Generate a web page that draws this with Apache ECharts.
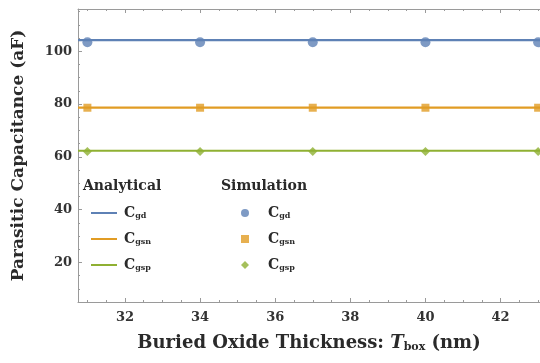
<!DOCTYPE html>
<html>
<head>
<meta charset="utf-8">
<script src="https://cdn.jsdelivr.net/npm/echarts@6/dist/echarts.min.js"></script>
<style>
  html, body { margin: 0; padding: 0; background: #fff; }
  #chart { width: 540px; height: 363px; }
</style>
</head>
<body>
<div id="chart"></div>
<script>
// Buried oxide thickness (nm) of the simulated devices
const tboxSim = [31, 34, 37, 40, 43];
// Span of the analytical model curves (nm)
const tboxModel = [30.75, 43.05];

// Analytical parasitic capacitances (aF)
const modelGd = [104.2, 104.2];
const modelGsn = [78.6, 78.6];
const modelGsp = [62.3, 62.3];

// Simulated parasitic capacitances (aF)
const simGd = [103.4, 103.4, 103.4, 103.4, 103.4];
const simGsn = [78.6, 78.6, 78.6, 78.6, 78.6];
const simGsp = [62.0, 62.0, 62.0, 62.0, 62.0];

// Legend subscripts for each component
const subscripts = { gd: 'gd', gsn: 'gsn', gsp: 'gsp' };

const xRange = [30.75, 43.05];
const yRange = [5, 116];

const colors = { gd: '#5E81B5', gsn: '#E19C24', gsp: '#8FB032' };
const serif = '"DejaVu Serif", "Liberation Serif", serif';
const frameColor = '#9a9a9a';
const ink = '#2a2a2a';

function pairs(xs, ys) { return xs.map((x, i) => [x, ys[i]]); }

function legendRich(leftPad) {
  return {
    c: { fontFamily: serif, fontWeight: 'bold', fontSize: 14, color: ink, padding: [0, 0, 0, leftPad] },
    s: { fontFamily: serif, fontWeight: 'bold', fontSize: 8, color: ink, verticalAlign: 'bottom', padding: [6, 0, 0, 0] }
  };
}
function legendLabel(name) {
  const key = name.split(' ')[0];
  return '{c|C}{s|' + subscripts[key] + '}';
}

const tickLabel = { fontFamily: serif, fontWeight: 'bold', fontSize: 13, color: '#333' };

const chart = echarts.init(document.getElementById('chart'));
chart.setOption({
  animation: false,
  backgroundColor: '#fff',
  grid: { left: 78, right: 0, top: 9, bottom: 61 },
  xAxis: [{
    type: 'value', min: xRange[0], max: xRange[1], splitNumber: 6,
    name: '{b|Buried Oxide Thickness: }{i|T}{sub|box}{b| (nm)}',
    nameLocation: 'middle', nameGap: 31,
    nameTextStyle: {
      rich: {
        b: { fontFamily: serif, fontWeight: 'bold', fontSize: 18, color: ink },
        i: { fontFamily: serif, fontWeight: 'bold', fontStyle: 'italic', fontSize: 18, color: ink },
        sub: { fontFamily: serif, fontWeight: 'bold', fontSize: 11, color: ink, verticalAlign: 'bottom', padding: [9, 0, 0, 0] }
      }
    },
    axisLine: { show: true, lineStyle: { color: frameColor, width: 1 } },
    axisTick: { inside: true, length: 4, lineStyle: { color: frameColor } },
    minorTick: { show: true, splitNumber: 4, length: 2, lineStyle: { color: frameColor } },
    axisLabel: Object.assign({ showMinLabel: false, showMaxLabel: false, margin: 9 }, tickLabel),
    splitLine: { show: false }
  }, {
    type: 'value', position: 'top', min: xRange[0], max: xRange[1], splitNumber: 6,
    axisLine: { show: true, lineStyle: { color: frameColor, width: 1 } },
    axisTick: { inside: true, length: 4, lineStyle: { color: frameColor } },
    minorTick: { show: true, splitNumber: 4, length: 2, lineStyle: { color: frameColor } },
    axisLabel: { show: false },
    splitLine: { show: false }
  }],
  yAxis: {
    type: 'value', min: yRange[0], max: yRange[1], splitNumber: 5,
    name: 'Parasitic Capacitance (aF)',
    nameLocation: 'middle', nameGap: 51, nameRotate: 90,
    nameTextStyle: { fontFamily: serif, fontWeight: 'bold', fontSize: 17, color: ink },
    axisLine: { show: true, lineStyle: { color: frameColor, width: 1 } },
    axisTick: { inside: true, length: 4, lineStyle: { color: frameColor } },
    minorTick: { show: true, splitNumber: 4, length: 2, lineStyle: { color: frameColor } },
    axisLabel: Object.assign({ showMinLabel: false, showMaxLabel: false, margin: 6 }, tickLabel),
    splitLine: { show: false }
  },
  legend: [{
    data: [
      { name: 'gd model', icon: 'rect' },
      { name: 'gsn model', icon: 'rect' },
      { name: 'gsp model', icon: 'rect' }
    ],
    orient: 'vertical', left: 86, top: 201, itemGap: 12,
    itemWidth: 26, itemHeight: 2,
    formatter: legendLabel,
    textStyle: { rich: legendRich(2) }
  }, {
    data: [
      { name: 'gd sim', icon: 'circle' },
      { name: 'gsn sim', icon: 'rect' },
      { name: 'gsp sim', icon: 'diamond' }
    ],
    orient: 'vertical', left: 236, top: 201, itemGap: 12,
    itemWidth: 8, itemHeight: 8,
    formatter: legendLabel,
    textStyle: { rich: legendRich(14) }
  }],
  graphic: [
    { type: 'text', left: 83, top: 179, style: { text: 'Analytical', font: 'bold 14px ' + serif, fill: ink } },
    { type: 'text', left: 221, top: 179, style: { text: 'Simulation', font: 'bold 14px ' + serif, fill: ink } }
  ],
  series: [
    { name: 'gd model', type: 'line', data: pairs(tboxModel, modelGd), symbol: 'none', color: colors.gd, lineStyle: { width: 2.2 } },
    { name: 'gsn model', type: 'line', data: pairs(tboxModel, modelGsn), symbol: 'none', color: colors.gsn, lineStyle: { width: 2.2 } },
    { name: 'gsp model', type: 'line', data: pairs(tboxModel, modelGsp), symbol: 'none', color: colors.gsp, lineStyle: { width: 2.2 } },
    { name: 'gd sim', type: 'scatter', data: pairs(tboxSim, simGd), symbol: 'circle', symbolSize: 10, color: colors.gd, clip: false },
    { name: 'gsn sim', type: 'scatter', data: pairs(tboxSim, simGsn), symbol: 'rect', symbolSize: 8, color: colors.gsn, clip: false },
    { name: 'gsp sim', type: 'scatter', data: pairs(tboxSim, simGsp), symbol: 'diamond', symbolSize: 9, color: colors.gsp, clip: false }
  ]
});
</script>
</body>
</html>
